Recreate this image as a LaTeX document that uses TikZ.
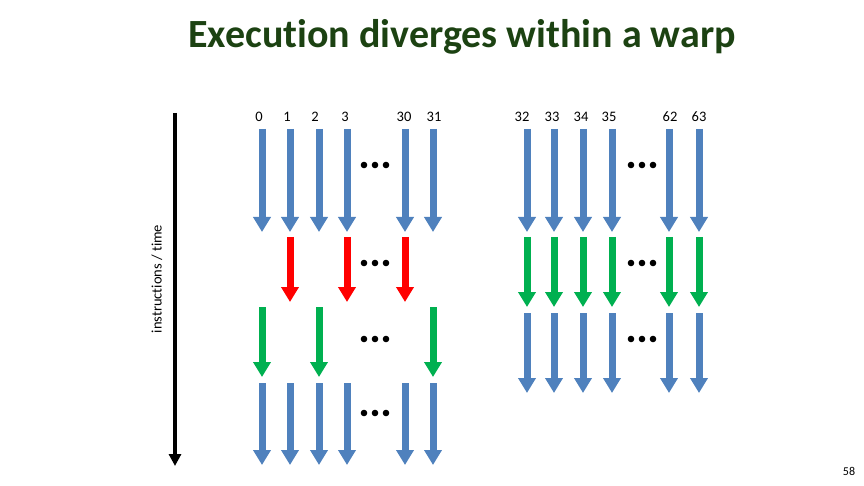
\documentclass[tikz,border=0pt]{standalone}
\usepackage{fontspec}
\setmainfont{Carlito}[Ligatures=NoCommon]
\usetikzlibrary{arrows.meta}
\definecolor{warpblue}{HTML}{4F81BD}
\definecolor{warpred}{HTML}{FF0000}
\definecolor{warpgreen}{HTML}{00B050}
\definecolor{titlegreen}{HTML}{1C4212}
\begin{document}
\begin{tikzpicture}[x=1pt,y=-1pt,
  fat/.style={line width=7pt,-{Triangle[width=17pt,length=15pt]}},
  timearrow/.style={line width=4pt,-{Triangle[width=12pt,length=12pt]}},
  lbl/.style={font=\fontsize{14.5pt}{16pt}\selectfont,inner sep=0pt},
  dotmark/.style={fill=black}]
\useasboundingbox (0,0) rectangle (864,486);

% title
\node[anchor=base,text=titlegreen,font=\fontsize{40pt}{44pt}\selectfont\bfseries] (title) at (462,48) {Execution diverges within a warp};

% time axis
\coordinate (ttop) at (175,113);
\coordinate (tbot) at (175,466);
\draw[timearrow] (ttop) -- (tbot);
\node[inner sep=0pt,font=\fontsize{14.5pt}{16pt}\selectfont,rotate=90] (tlabel) at (157,279) {instructions / time};

% labels
\foreach \n/\lx in {0/259,1/287,2/315,3/345,30/404,31/434,32/522,33/552,34/581,35/609,62/670,63/699}
  \node[lbl] (lab\n) at (\lx,117) {\n};

% left group, row 1 (blue)
\foreach \n/\x in {0/262,1/290,2/319,3/347,30/405,31/433}{
  \coordinate (ra\n) at (\x,129); \coordinate (rb\n) at (\x,232);
  \draw[fat,warpblue] (ra\n) -- (rb\n);
}
% left group, row 2 (red)
\foreach \n/\x in {1/290,3/347,30/405}{
  \coordinate (sa\n) at (\x,237); \coordinate (sb\n) at (\x,302);
  \draw[fat,warpred] (sa\n) -- (sb\n);
}
% left group, row 3 (green)
\foreach \n/\x in {0/262,2/319,31/433}{
  \coordinate (ta\n) at (\x,307); \coordinate (tb\n) at (\x,377);
  \draw[fat,warpgreen] (ta\n) -- (tb\n);
}
% left group, row 4 (blue)
\foreach \n/\x in {0/262,1/290,2/319,3/347,30/405,31/433}{
  \coordinate (ua\n) at (\x,383); \coordinate (ub\n) at (\x,465);
  \draw[fat,warpblue] (ua\n) -- (ub\n);
}

% right group, row 1 (blue)
\foreach \n/\x in {32/527,33/554,34/583,35/612,62/669,63/699}{
  \coordinate (va\n) at (\x,129); \coordinate (vb\n) at (\x,232);
  \draw[fat,warpblue] (va\n) -- (vb\n);
}
% right group, row 2 (green)
\foreach \n/\x in {32/527,33/554,34/583,35/612,62/669,63/699}{
  \coordinate (wa\n) at (\x,237); \coordinate (wb\n) at (\x,307);
  \draw[fat,warpgreen] (wa\n) -- (wb\n);
}
% right group, row 3 (blue)
\foreach \n/\x in {32/527,33/554,34/583,35/612,62/669,63/699}{
  \coordinate (xa\n) at (\x,313); \coordinate (xb\n) at (\x,393);
  \draw[fat,warpblue] (xa\n) -- (xb\n);
}

% ellipses
\foreach \cx/\cy in {375/165,375/263,375/339,375/413,642/165,642/263,642/339}{
  \foreach \d in {-11,0,11}
    \fill[dotmark] (\cx+\d,\cy) circle (3.3pt);
}

% page number
\node[font=\fontsize{12pt}{14pt}\selectfont,inner sep=0pt] (pg) at (849,471) {58};
\end{tikzpicture}
\end{document}
